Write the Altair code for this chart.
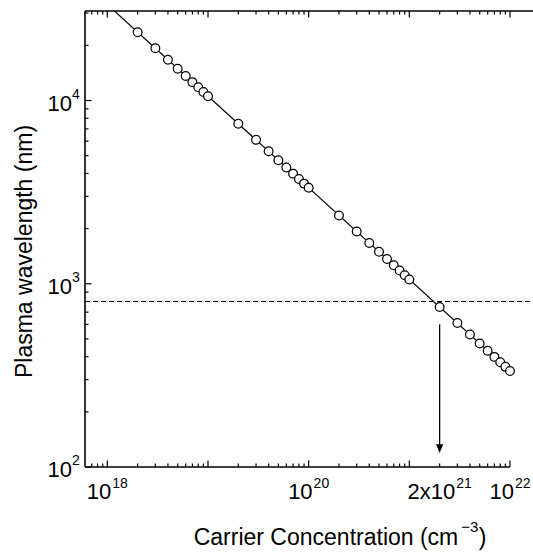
import altair as alt
import pandas as pd

# Carrier concentration (cm^-3) of each computed point
concentration = [
    2e18, 3e18, 4e18, 5e18, 6e18, 7e18, 8e18, 9e18, 1e19,
    2e19, 3e19, 4e19, 5e19, 6e19, 7e19, 8e19, 9e19, 1e20,
    2e20, 3e20, 4e20, 5e20, 6e20, 7e20, 8e20, 9e20, 1e21,
    2e21, 3e21, 4e21, 5e21, 6e21, 7e21, 8e21, 9e21, 1e22,
]
# Plasma wavelength (nm) at each concentration
wavelength = [
    23600, 19300, 16700, 14900, 13600, 12600, 11800, 11130, 10560,
    7470, 6100, 5280, 4720, 4310, 3990, 3730, 3520, 3340,
    2360, 1930, 1670, 1494, 1364, 1262, 1181, 1113, 1056,
    747, 610, 528, 472, 431, 399, 373, 352, 334,
]
# Straight (log-log) curve through the points
fit_concentration = [1e18, 1e22]
fit_wavelength = [33400, 334]

# 800 nm reference level and the arrow dropped at 2x10^21
ref_wavelength = 800
arrow_concentration = 2e21
arrow_from = 600
arrow_head = 126

# Axis labels
x_label_values = [1e18, 1e20, 2e21, 1e22]
x_label_base = ["10", "10", "2x10", "10"]
x_label_exp = ["18", "20", "21", "22"]
y_label_values = [1e2, 1e3, 1e4]
y_label_base = ["10", "10", "10"]
y_label_exp = ["2", "3", "4"]

# Tick positions
x_major = [1e18, 1e19, 1e20, 1e21, 1e22]
x_minor = [7e17, 8e17, 9e17] + [k * 10.0 ** m for m in range(18, 22) for k in range(2, 10)]
y_major = [1e2, 1e3, 1e4]
y_minor = [k * 10.0 ** m for m in (2, 3) for k in range(2, 10)] + [2e4, 3e4]

W, H = 425, 456
EXTRA = 23  # top frame and dashed line run on past the last decade
FONT = "Liberation Sans"
BASE_SIZE = 22
EXP_SIZE = 14
TITLE_SIZE = 23
MAJOR_LEN, MINOR_LEN = 6.5, 3.5

# Arial / Liberation Sans advance widths (1/1000 em)
ADV = {
    "0": 556, "1": 556, "2": 556, "3": 556, "4": 556, "5": 556, "6": 556,
    "7": 556, "8": 556, "9": 556, "x": 500, " ": 278, "C": 722, "a": 556,
    "r": 333, "i": 222, "e": 556, "o": 556, "n": 556, "c": 500, "t": 278,
    "(": 333, ")": 333, "m": 833, "\u2212": 584,
}


def text_width(s, size):
    return sum(ADV.get(ch, 556) for ch in s) * size / 1000.0


xscale = alt.Scale(type="log", domain=[6e17, 1e22], nice=False)
yscale = alt.Scale(type="log", domain=[100, 30800], nice=False)


def xq(field):
    return alt.X(f"{field}:Q", scale=xscale, axis=None)


def yq(field):
    return alt.Y(f"{field}:Q", scale=yscale, axis=None)


layers = []

# Dashed 800 nm level
layers.append(
    alt.Chart(pd.DataFrame({"w": [ref_wavelength]}))
    .mark_rule(color="black", strokeWidth=1.2, strokeDash=[5, 3])
    .encode(x=alt.value(0), x2=alt.value(W + EXTRA), y=yq("w"))
)

# Fitted line
fit_df = pd.DataFrame({"n": fit_concentration, "w": fit_wavelength})
layers.append(
    alt.Chart(fit_df)
    .mark_line(color="black", strokeWidth=1.2, clip=True)
    .encode(x=xq("n"), y=yq("w"))
)

# Arrow shaft and head
arrow_df = pd.DataFrame({"n": [arrow_concentration], "w": [arrow_from], "w2": [arrow_head]})
layers.append(
    alt.Chart(arrow_df)
    .mark_rule(color="black", strokeWidth=1.3)
    .encode(x=xq("n"), y=yq("w"), y2="w2:Q")
)
layers.append(
    alt.Chart(arrow_df)
    .mark_point(shape="M-0.82,-1L0.82,-1L0,1Z", size=78, filled=True,
                color="black", opacity=1)
    .encode(x=xq("n"), y=yq("w2"))
)

# Open circles
pts = pd.DataFrame({"n": concentration, "w": wavelength})
layers.append(
    alt.Chart(pts)
    .mark_point(shape="circle", size=76, fill="white", stroke="black",
                strokeWidth=1.25, opacity=1, fillOpacity=1)
    .encode(x=xq("n"), y=yq("w"))
)

# Frame lines (left, bottom, top)
frame = pd.DataFrame({"k": [0]})
layers.append(alt.Chart(frame).mark_rule(color="black", strokeWidth=1.6)
              .encode(x=alt.value(0), y=alt.value(0), y2=alt.value(H)))
layers.append(alt.Chart(frame).mark_rule(color="black", strokeWidth=1.6)
              .encode(x=alt.value(0), x2=alt.value(W), y=alt.value(H)))
layers.append(alt.Chart(frame).mark_rule(color="black", strokeWidth=1.4)
              .encode(x=alt.value(0), x2=alt.value(W + EXTRA), y=alt.value(0)))

# Inward ticks
for vals, length in ((x_major, MAJOR_LEN), (x_minor, MINOR_LEN)):
    d = pd.DataFrame({"v": vals})
    layers.append(alt.Chart(d).mark_rule(color="black", strokeWidth=1.2)
                  .encode(x=xq("v"), y=alt.value(H), y2=alt.value(H - length)))
    layers.append(alt.Chart(d).mark_rule(color="black", strokeWidth=1.2)
                  .encode(x=xq("v"), y=alt.value(0), y2=alt.value(length)))
for vals, length in ((y_major, MAJOR_LEN), (y_minor, MINOR_LEN)):
    d = pd.DataFrame({"v": vals})
    layers.append(alt.Chart(d).mark_rule(color="black", strokeWidth=1.2)
                  .encode(y=yq("v"), x=alt.value(0), x2=alt.value(length)))

# X tick labels: base + superscript, centred on the tick
for v, base, exp in zip(x_label_values, x_label_base, x_label_exp):
    wb = text_width(base, BASE_SIZE)
    we = text_width(exp, EXP_SIZE)
    total = wb + 1 + we
    right = wb - total / 2
    d = pd.DataFrame({"v": [v], "b": [base], "e": [exp]})
    layers.append(
        alt.Chart(d).mark_text(align="right", baseline="alphabetic", dx=right,
                               font=FONT, fontSize=BASE_SIZE, color="black")
        .encode(x=xq("v"), y=alt.value(H + 32), text="b:N")
    )
    layers.append(
        alt.Chart(d).mark_text(align="left", baseline="alphabetic", dx=right + 1,
                               font=FONT, fontSize=EXP_SIZE, color="black")
        .encode(x=xq("v"), y=alt.value(H + 21), text="e:N")
    )

# Y tick labels
ylab = pd.DataFrame({"v": y_label_values, "b": y_label_base, "e": y_label_exp})
layers.append(
    alt.Chart(ylab).mark_text(align="right", baseline="alphabetic", dy=10,
                              font=FONT, fontSize=BASE_SIZE, color="black")
    .encode(x=alt.value(-13), y=yq("v"), text="b:N")
)
layers.append(
    alt.Chart(ylab).mark_text(align="left", baseline="alphabetic", dy=-2,
                              font=FONT, fontSize=EXP_SIZE, color="black")
    .encode(x=alt.value(-13), y=yq("v"), text="e:N")
)

# Axis titles
x_title_main = "Carrier Concentration (cm"
x_title_exp = "\u22123"
x_title_close = ")"
tx0 = 108.7
tx1 = tx0 + text_width(x_title_main, TITLE_SIZE) + 3
tx2 = tx1 + text_width(x_title_exp, EXP_SIZE + 1) + 0.5
title_y = H + 78
layers.append(
    alt.Chart(frame).mark_text(align="left", baseline="alphabetic", font=FONT,
                               fontSize=TITLE_SIZE, color="black")
    .encode(x=alt.value(tx0), y=alt.value(title_y), text=alt.value(x_title_main))
)
layers.append(
    alt.Chart(frame).mark_text(align="left", baseline="alphabetic", font=FONT,
                               fontSize=EXP_SIZE + 1, color="black")
    .encode(x=alt.value(tx1), y=alt.value(title_y - 13), text=alt.value(x_title_exp))
)
layers.append(
    alt.Chart(frame).mark_text(align="left", baseline="alphabetic", font=FONT,
                               fontSize=TITLE_SIZE, color="black")
    .encode(x=alt.value(tx2), y=alt.value(title_y), text=alt.value(x_title_close))
)
layers.append(
    alt.Chart(frame).mark_text(align="center", baseline="alphabetic", angle=270,
                               font=FONT, fontSize=TITLE_SIZE, color="black")
    .encode(x=alt.value(-53.3), y=alt.value(240.5),
            text=alt.value("Plasma wavelength (nm)"))
)

chart = (
    alt.layer(*layers)
    .properties(
        width=W,
        height=H,
        padding={"left": 85, "top": 11, "right": 23, "bottom": 86},
        autosize=alt.AutoSizeParams(type="none"),
        background="white",
    )
    .configure_view(stroke=None)
)

chart.save("out.html", embed_options={"renderer": "svg", "actions": False})
